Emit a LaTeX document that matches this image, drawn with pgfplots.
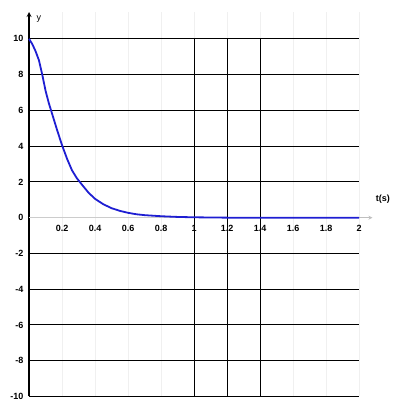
\documentclass[border=0pt]{standalone}
\usepackage{pgfplots}
\pgfplotsset{compat=1.18}
\usepackage{fontspec}
\setmainfont{Liberation Sans}
\definecolor{curveblue}{RGB}{30,30,210}

\begin{document}
\begin{tikzpicture}
\begin{axis}[
    scale only axis,
    width=343pt, height=384pt,
    xmin=0, xmax=2.08,
    ymin=-10, ymax=11.5,
    axis x line=middle, axis y line=left,
    x axis line style={gray!50, line width=0.8pt, -stealth},
    y axis line style={black, line width=1.2pt, -stealth},
    xtick={0.2,0.4,0.6,0.8,1,1.2,1.4,1.6,1.8,2},
    xticklabels={0.2,0.4,0.6,0.8,1,1.2,1.4,1.6,1.8,2},
    ytick={-10,-8,-6,-4,-2,0,2,4,6,8,10},
    yticklabels={-10,-8,-6,-4,-2,0,2,4,6,8,10},
    tick style={draw=none},
    xticklabel style={font=\small\bfseries, yshift=-2pt},
    yticklabel style={font=\small\bfseries},
    /pgf/number format/assume math mode=true,
    xmajorgrids, major grid style={gray!12, line width=0.6pt},
    xlabel={t(s)},
    xlabel style={font=\small\bfseries, at={(axis cs:2.08,0.6)}, anchor=south west},
    ylabel={y},
    ylabel style={font=\small, rotate=-90, at={(axis cs:0.06,11.5)}, anchor=north},
    clip=false]
  \pgfplotsinvokeforeach{-10,-8,-6,-4,-2,2,4,6,8,10}{
    \addplot[black, line width=1.1pt, mark=none] coordinates {(0,#1) (2,#1)};
  }
  \addplot[gray!40, line width=0.8pt, mark=none] coordinates {(0,0) (2,0)};
  \pgfplotsinvokeforeach{1,1.2,1.4}{
    \addplot[black, line width=1.1pt, mark=none] coordinates {(#1,-10) (#1,10)};
  }
  \addplot[curveblue, line width=1.8pt, mark=none] coordinates {
    (0,10) (0.02,9.7) (0.04,9.3) (0.06,8.8) (0.08,8.0) (0.10,7.1)
    (0.12,6.4) (0.14,5.8) (0.17,4.9) (0.20,4.05) (0.23,3.3) (0.26,2.65)
    (0.29,2.2) (0.32,1.85) (0.36,1.4) (0.40,1.05) (0.45,0.75) (0.50,0.53)
    (0.55,0.38) (0.60,0.27) (0.65,0.19) (0.70,0.14) (0.80,0.08)
    (0.90,0.04) (1.0,0.02) (1.2,0) (2,0)};
\end{axis}
\path ([xshift=-29pt,yshift=-6pt]current axis.south west)
      rectangle ([xshift=25pt,yshift=12pt]current axis.north east);
\end{tikzpicture}
\end{document}
